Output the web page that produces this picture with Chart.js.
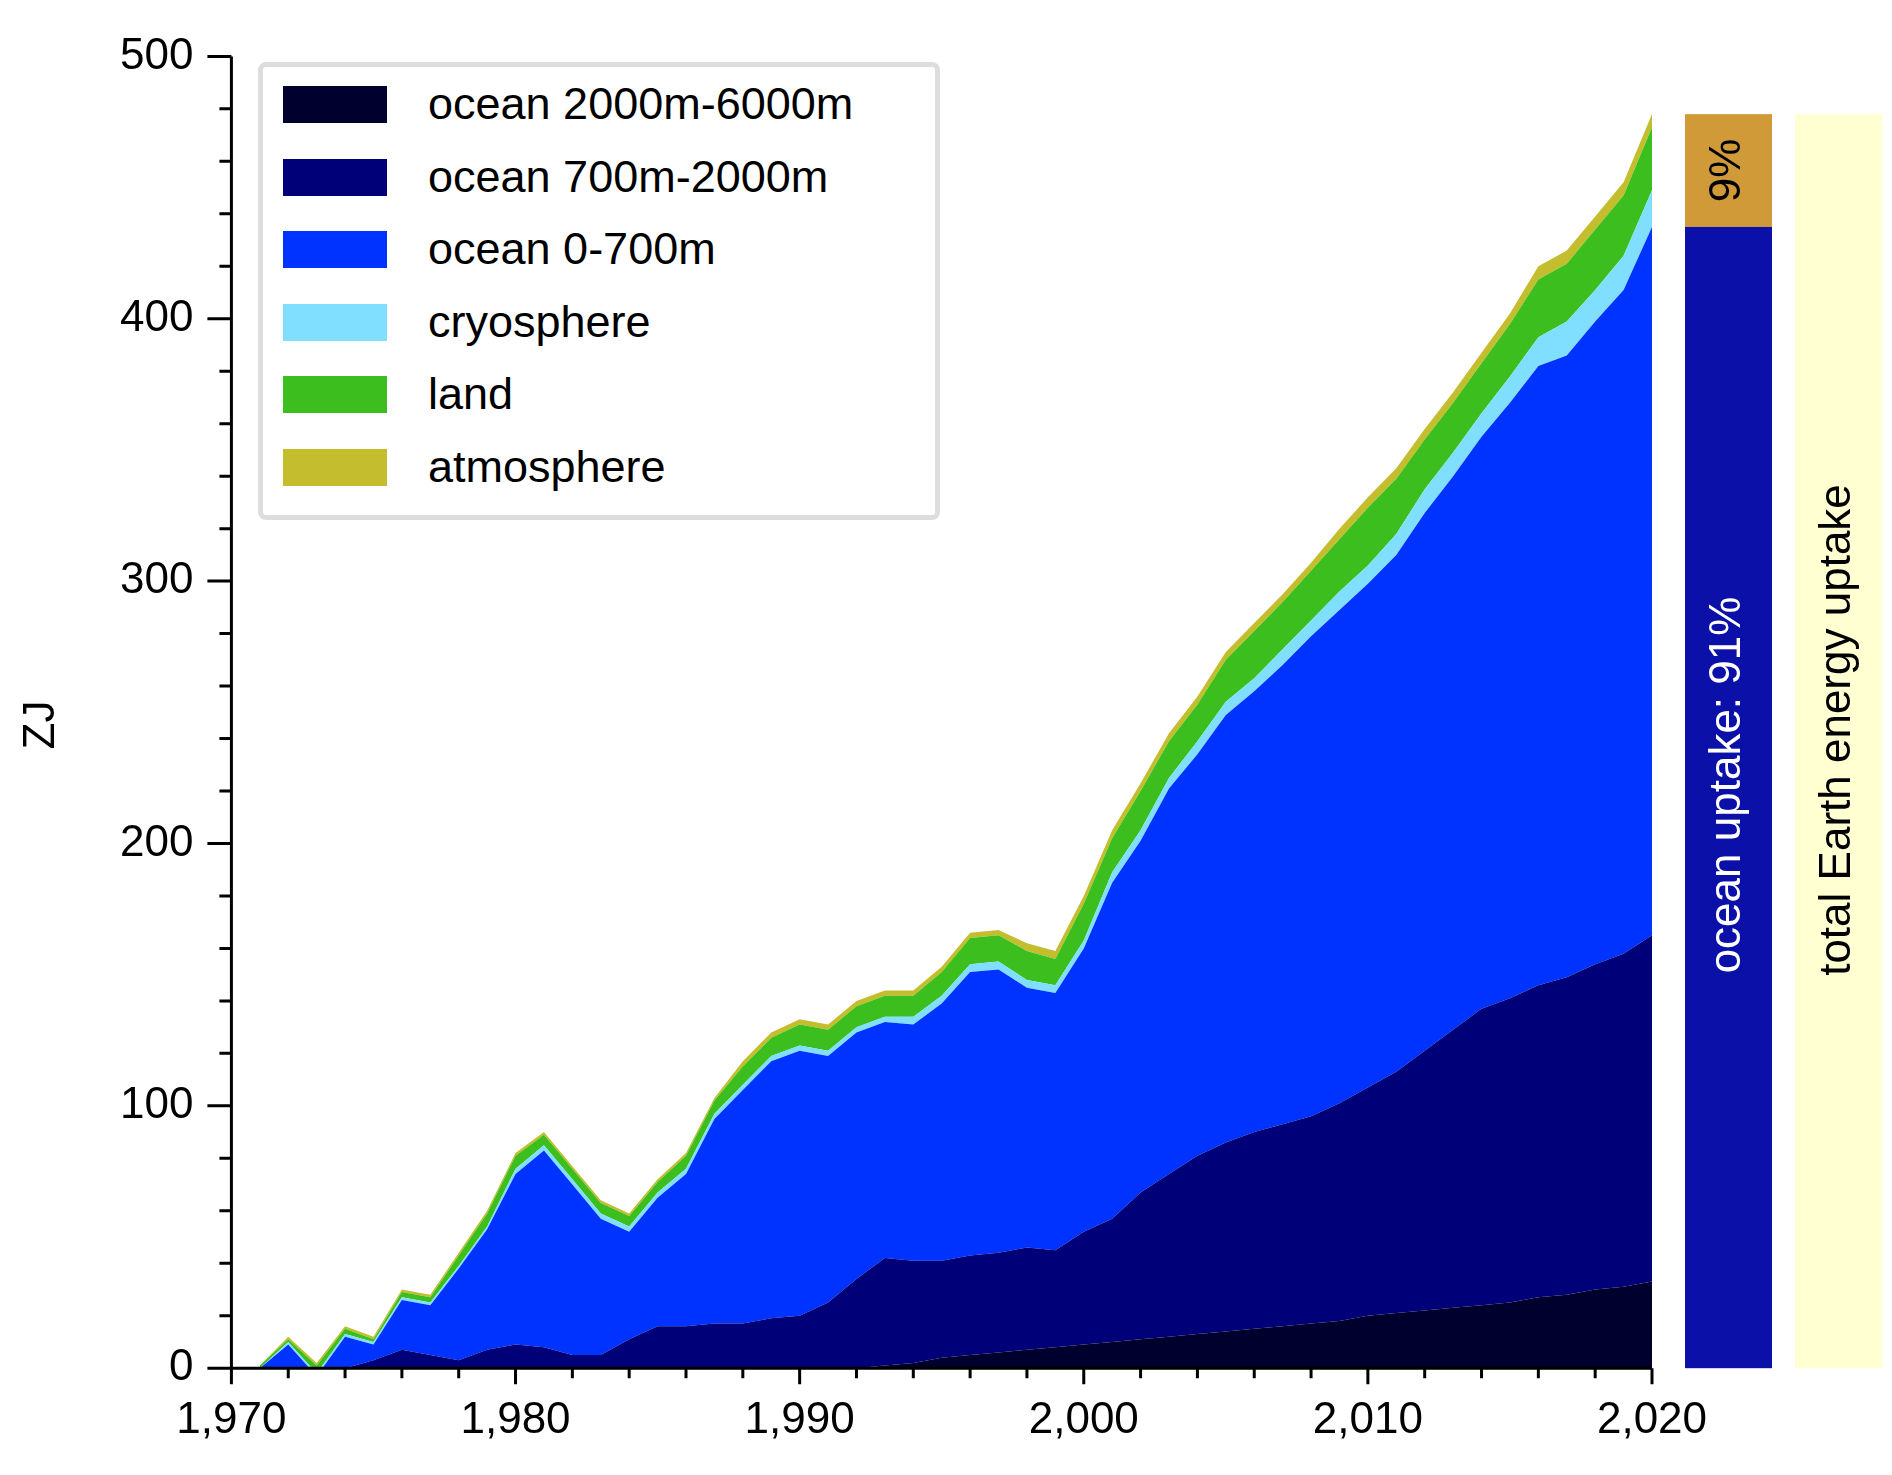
<!DOCTYPE html>
<html>
<head>
<meta charset="utf-8">
<script src="https://cdn.jsdelivr.net/npm/chart.js@4"></script>
<style>
  body { margin: 0; background: #fff; }
  #wrap { position: relative; width: 1892px; height: 1475px; }
  #legend { position: absolute; left: 258px; top: 62px; width: 672px; height: 448px;
    border: 5px solid #ddd; border-radius: 8px; background: #fff; font-family: "Liberation Sans", Arial, sans-serif; }
  .row { position: absolute; left: 0; height: 40px; }
  .sw { position: absolute; left: 20px; top: 2px; width: 104px; height: 37px; }
  .lb { position: absolute; left: 165px; top: -6px; font-size: 45px; white-space: nowrap; }
</style>
</head>
<body>
<div id="wrap">
  <canvas id="c" width="1892" height="1475"></canvas>
  <div id="legend"></div>
</div>
<script>
var years = [];
for (var y = 1971; y <= 2020; y++) years.push(y);

// cumulative tops of ocean layers (ZJ)
var deepTop = [0,0,0,0,0,0,0,0,0,0, 0,0,0,0,0,0,0,0,0,0, 0,0,1,2,4,5,6,7,8,9,
  10,11,12,13,14,15,16,17,18,20, 21,22,23,24,25,27,28,30,31,33];
var midTop = [0,0,0,0,3,7,5,3,7,9, 8,5,5,11,16,16,17,17,19,20, 25,34,42,41,41,43,44,46,45,52,
  57,67,74,81,86,90,93,96,101,107, 113,121,129,137,141,146,149,154,158,165];
var upperTop = [0,9,-3,12,9,26,24,38,53,74, 83,70,57,52,65,74,95,106,117,121, 119,128,132,131,139,151,152,145,143,160,
  185,201,221,234,249,258,268,279,289,299, 310,326,340,355,368,382,386,399,411,435];
// thickness of the other components (ZJ)
var cryo = [0,1,1,1,1,1,1,1,1,2, 2,2,2,2,2,2,2,2,2,2, 2,2,2,3,3,3,3,3,3,3,
  4,4,4,5,5,5,6,6,7,7, 8,9,9,9,10,11,13,12,13,14];
var land = [1,1,3,2,1,2,2,4,5,5, 4,4,4,4,4,5,5,7,7,8, 8,8,8,8,9,10,10,11,10,14,
  13,15,14,14,16,18,18,19,20,22, 21,19,19,19,20,22,22,23,23,24];
var atmos = [0,1,1,1,1,1,1,1,1,1, 1,1,1,1,1,1,1,2,2,2, 2,2,2,2,2,2,2,3,3,3,
  3,3,3,3,3,3,3,3,4,4, 4,4,4,4,4,5,5,5,5,5];

var names = ['ocean 2000m-6000m','ocean 700m-2000m','ocean 0-700m','cryosphere','land','atmosphere'];
var colors = ['#00002e','#000078','#0033ff','#80dfff','#3cbf1e','#c4bd2e'];

var cryoTop = upperTop.map(function (v, i) { return v + cryo[i]; });
var landTop = cryoTop.map(function (v, i) { return v + land[i]; });
var atmosTop = landTop.map(function (v, i) { return v + atmos[i]; });
var tops = [deepTop, midTop, upperTop, cryoTop, landTop, atmosTop];

var datasets = tops.map(function (arr, k) {
  return {
    label: names[k],
    data: arr.map(function (v, i) { return { x: years[i], y: v }; }),
    backgroundColor: colors[k],
    borderWidth: 0,
    pointRadius: 0,
    tension: 0,
    fill: k === 0 ? 'origin' : '-1',
    clip: 20
  };
});

// legend
var leg = document.getElementById('legend');
names.forEach(function (n, k) {
  var r = document.createElement('div');
  r.className = 'row';
  r.style.top = (17 + k * 72.6) + 'px';
  r.innerHTML = '<div class="sw" style="background:' + colors[k] + '"></div><div class="lb">' + n + '</div>';
  leg.appendChild(r);
});

var FONT = '"Liberation Sans", Arial, sans-serif';

var extras = {
  id: 'extras',
  afterDraw: function (chart) {
    var ctx = chart.ctx, xs = chart.scales.x, ys = chart.scales.y;
    var bottom = ys.getPixelForValue(0), left = xs.getPixelForValue(1970);
    ctx.save();
    ctx.strokeStyle = '#000';
    ctx.lineWidth = 3;
    ctx.beginPath();
    ctx.moveTo(left, ys.getPixelForValue(500)); ctx.lineTo(left, bottom);
    ctx.lineTo(xs.getPixelForValue(2020), bottom);
    for (var yr = 1970; yr <= 2020; yr += 2) {
      var px = xs.getPixelForValue(yr);
      ctx.moveTo(px, bottom); ctx.lineTo(px, bottom + (yr % 10 === 0 ? 16 : 10));
    }
    for (var v = 0; v <= 500; v += 20) {
      var py = ys.getPixelForValue(v);
      ctx.moveTo(left, py); ctx.lineTo(left - (v % 100 === 0 ? 24 : 12), py);
    }
    ctx.stroke();

    // right bars
    var top = ys.getPixelForValue(478), split = ys.getPixelForValue(435);
    ctx.fillStyle = '#d09a38'; ctx.fillRect(1685, top, 87, split - top);
    ctx.fillStyle = '#0a10a8'; ctx.fillRect(1685, split, 87, bottom - split);
    ctx.fillStyle = '#ffffd2'; ctx.fillRect(1795, top, 87, bottom - top);

    ctx.font = '44px ' + FONT;
    ctx.textAlign = 'center'; ctx.textBaseline = 'middle';
    function vtext(t, x, y, c) {
      ctx.save(); ctx.translate(x, y); ctx.rotate(-Math.PI / 2);
      ctx.fillStyle = c; ctx.fillText(t, 0, 0); ctx.restore();
    }
    vtext('9%', 1728, (top + split) / 2, '#000');
    vtext('ocean uptake: 91%', 1728, 785, '#fff');
    vtext('total Earth energy uptake', 1838, 730, '#000');
    vtext('ZJ', 42, 725, '#000');
    ctx.restore();
  }
};

new Chart(document.getElementById('c').getContext('2d'), {
  type: 'line',
  data: { datasets: datasets },
  options: {
    responsive: false,
    animation: false,
    layout: { padding: { left: 90, right: 240, top: 22, bottom: 10 } },
    plugins: { legend: { display: false }, tooltip: { enabled: false } },
    scales: {
      x: {
        type: 'linear', min: 1970, max: 2020,
        grid: { display: false }, border: { display: false },
        ticks: { stepSize: 10, color: '#000', font: { family: FONT, size: 44 }, padding: 18, maxRotation: 0 }
      },
      y: {
        min: 0, max: 500,
        grid: { display: false }, border: { display: false },
        ticks: { stepSize: 100, color: '#000', font: { family: FONT, size: 44 }, padding: 30 }
      }
    }
  },
  plugins: [extras]
});
</script>
</body>
</html>
